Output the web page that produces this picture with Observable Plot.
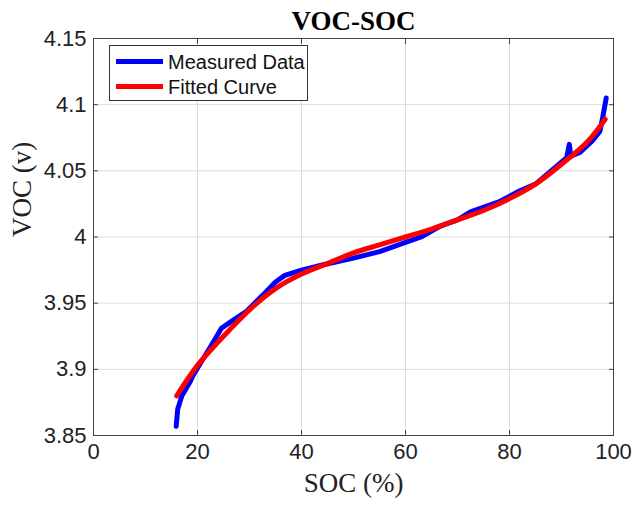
<!DOCTYPE html>
<html><head><meta charset="utf-8">
<script src="https://cdn.jsdelivr.net/npm/d3@7"></script>
<script src="https://cdn.jsdelivr.net/npm/@observablehq/plot@0.6"></script>
<style>
body{margin:0;background:#fff;}
#wrap{position:relative;width:632px;height:506px;}
.legend{position:absolute;left:109px;top:45px;width:199px;height:56px;box-sizing:border-box;border:1px solid #333;background:#fff;font-family:"Liberation Sans",Arial,sans-serif;font-size:20px;color:#111;}
.item{position:absolute;left:6px;height:24px;line-height:24px;white-space:nowrap;}
.sw{display:inline-block;width:47px;height:5px;vertical-align:middle;margin-right:5px;position:relative;top:-2px;}
</style></head>
<body><div id="wrap"></div>
<script>
const measuredSOC = [15.9,16.2,17.0,18.5,19.1,20.0,22.5,24.6,26.8,29.5,31.5,33.3,35.0,36.8,40.0,44.2,50.0,55.0,60.0,63.0,66.6,70.0,72.5,78.2,82.0,85.0,88.0,91.0,91.5,91.8,93.6,96.0,97.4,98.0,98.6];
const measuredVOC = [3.857,3.870,3.880,3.890,3.895,3.901,3.917,3.931,3.937,3.944,3.952,3.959,3.966,3.971,3.975,3.979,3.984,3.989,3.996,4.000,4.008,4.013,4.019,4.027,4.035,4.040,4.050,4.060,4.070,4.061,4.064,4.073,4.080,4.092,4.105];
const fittedSOC = [16,20,25,30,35,40,45,50,55,60,65,70,75,80,85,90,95,98.4];
const fittedVOC = [3.880,3.903,3.925,3.945,3.961,3.972,3.980,3.988,3.994,4.000,4.006,4.013,4.020,4.029,4.040,4.055,4.072,4.089];
const xTicks = [0,20,40,60,80,100];
const yTicks = [3.85,3.9,3.95,4,4.05,4.1,4.15];
const yTickLabels = ["3.85","3.9","3.95","4","4.05","4.1","4.15"];

const measured = measuredSOC.map((x,i)=>({x, y: measuredVOC[i]}));
const fitted = fittedSOC.map((x,i)=>({x, y: fittedVOC[i]}));
const sans = '"Liberation Sans", Arial, sans-serif';
const serif = '"Liberation Serif", "Times New Roman", serif';
const axisColor = "#444";
const fmtY = d => yTickLabels[yTicks.findIndex(t => Math.abs(t-d) < 1e-9)];

const chart = Plot.plot({
  width: 632, height: 506,
  marginLeft: 93, marginRight: 19, marginTop: 38, marginBottom: 71,
  style: {fontFamily: sans, fontSize: "22px", background: "#fff", color: "#222"},
  x: {domain: [0,100]},
  y: {domain: [3.85,4.15]},
  marks: [
    Plot.gridX(xTicks, {stroke: "#dcdcdc", strokeOpacity: 1}),
    Plot.gridY(yTicks, {stroke: "#dcdcdc", strokeOpacity: 1}),
    Plot.line(measured, {x: "x", y: "y", stroke: "#0000ff", strokeWidth: 5, strokeLinejoin: "round", curve: "linear"}),
    Plot.line(fitted, {x: "x", y: "y", stroke: "#ff0000", strokeWidth: 5, curve: "catmull-rom"}),
    Plot.frame({stroke: axisColor}),
    Plot.axisX(xTicks, {anchor: "bottom", tickSize: -5, stroke: axisColor, text: null, label: null}),
    Plot.axisX(xTicks, {anchor: "top", tickSize: -5, stroke: axisColor, text: null, label: null}),
    Plot.axisY(yTicks, {anchor: "left", tickSize: -5, stroke: axisColor, text: null, label: null}),
    Plot.axisY(yTicks, {anchor: "right", tickSize: -5, stroke: axisColor, text: null, label: null}),
    Plot.axisX(xTicks, {anchor: "bottom", tickSize: 0, tickPadding: 8, fill: "#222", fontSize: 22, label: null}),
    Plot.axisY(yTicks, {anchor: "left", tickSize: 0, tickPadding: 7, fill: "#222", fontSize: 22, tickFormat: fmtY, label: null}),
    Plot.text(["SOC (%)"], {frameAnchor: "bottom", dy: 56, fontFamily: serif, fontSize: 27, fill: "#222"}),
    Plot.text(["VOC (v)"], {frameAnchor: "left", dx: -71, rotate: -90, fontFamily: serif, fontSize: 27, fill: "#222"}),
    Plot.text(["VOC-SOC"], {frameAnchor: "top", dy: -28, fontFamily: serif, fontSize: 27, fontWeight: "bold", fill: "#000"})
  ]
});
const wrap = document.getElementById("wrap");
wrap.appendChild(chart);
const leg = document.createElement("div");
leg.className = "legend";
leg.innerHTML = '<div class="item" style="top:4px"><span class="sw" style="background:#0000ff"></span>Measured Data</div>' +
                '<div class="item" style="top:29px"><span class="sw" style="background:#ff0000"></span>Fitted Curve</div>';
wrap.appendChild(leg);
</script>
</body></html>
